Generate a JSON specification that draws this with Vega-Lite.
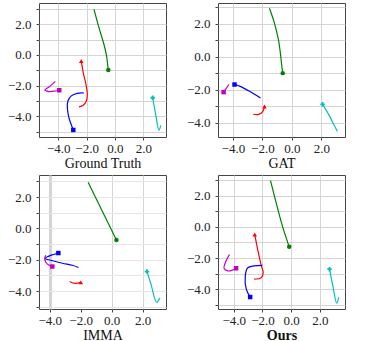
{
  "$schema": "https://vega.github.io/schema/vega-lite/v6.json",
  "padding": {"left": 6, "top": 0, "right": 0, "bottom": 0},
  "background": "white",
  "datasets": {
    "traj": [
      {"p": "GT", "a": "green", "i": 0, "m": 1, "x": -0.47, "y": -0.98},
      {"p": "GT", "a": "green", "i": 1, "m": 0, "x": -0.52, "y": -0.61},
      {"p": "GT", "a": "green", "i": 2, "m": 0, "x": -0.59, "y": -0.07},
      {"p": "GT", "a": "green", "i": 3, "m": 0, "x": -0.78, "y": 0.70},
      {"p": "GT", "a": "green", "i": 4, "m": 0, "x": -1.13, "y": 1.78},
      {"p": "GT", "a": "green", "i": 5, "m": 0, "x": -1.48, "y": 2.98},
      {"p": "GT", "a": "red", "i": 0, "m": 1, "x": -2.38, "y": -0.39},
      {"p": "GT", "a": "red", "i": 1, "m": 0, "x": -2.24, "y": -1.15},
      {"p": "GT", "a": "red", "i": 2, "m": 0, "x": -2.05, "y": -1.91},
      {"p": "GT", "a": "red", "i": 3, "m": 0, "x": -1.95, "y": -2.57},
      {"p": "GT", "a": "red", "i": 4, "m": 0, "x": -2.02, "y": -3.0},
      {"p": "GT", "a": "red", "i": 5, "m": 0, "x": -2.24, "y": -3.28},
      {"p": "GT", "a": "red", "i": 6, "m": 0, "x": -2.54, "y": -3.39},
      {"p": "GT", "a": "blue", "i": 0, "m": 1, "x": -2.94, "y": -4.89},
      {"p": "GT", "a": "blue", "i": 1, "m": 0, "x": -3.25, "y": -4.09},
      {"p": "GT", "a": "blue", "i": 2, "m": 0, "x": -3.36, "y": -3.43},
      {"p": "GT", "a": "blue", "i": 3, "m": 0, "x": -3.32, "y": -3.0},
      {"p": "GT", "a": "blue", "i": 4, "m": 0, "x": -3.08, "y": -2.67},
      {"p": "GT", "a": "blue", "i": 5, "m": 0, "x": -2.66, "y": -2.5},
      {"p": "GT", "a": "blue", "i": 6, "m": 0, "x": -2.19, "y": -2.48},
      {"p": "GT", "a": "magenta", "i": 0, "m": 1, "x": -3.93, "y": -2.3},
      {"p": "GT", "a": "magenta", "i": 1, "m": 0, "x": -4.19, "y": -2.35},
      {"p": "GT", "a": "magenta", "i": 2, "m": 0, "x": -4.66, "y": -2.39},
      {"p": "GT", "a": "magenta", "i": 3, "m": 0, "x": -4.94, "y": -2.28},
      {"p": "GT", "a": "magenta", "i": 4, "m": 0, "x": -4.66, "y": -2.09},
      {"p": "GT", "a": "magenta", "i": 5, "m": 0, "x": -4.21, "y": -1.72},
      {"p": "GT", "a": "cyan", "i": 0, "m": 1, "x": 2.66, "y": -2.79},
      {"p": "GT", "a": "cyan", "i": 1, "m": 0, "x": 2.87, "y": -3.87},
      {"p": "GT", "a": "cyan", "i": 2, "m": 0, "x": 3.1, "y": -4.9},
      {"p": "GT", "a": "cyan", "i": 3, "m": 0, "x": 3.23, "y": -4.59},

      {"p": "GAT", "a": "green", "i": 0, "m": 1, "x": -0.62, "y": -0.98},
      {"p": "GAT", "a": "green", "i": 1, "m": 0, "x": -0.69, "y": -0.5},
      {"p": "GAT", "a": "green", "i": 2, "m": 0, "x": -0.78, "y": 0.22},
      {"p": "GAT", "a": "green", "i": 3, "m": 0, "x": -0.91, "y": 1.03},
      {"p": "GAT", "a": "green", "i": 4, "m": 0, "x": -1.18, "y": 2.04},
      {"p": "GAT", "a": "green", "i": 5, "m": 0, "x": -1.52, "y": 2.95},
      {"p": "GAT", "a": "blue", "i": 0, "m": 1, "x": -3.89, "y": -1.67},
      {"p": "GAT", "a": "blue", "i": 1, "m": 0, "x": -3.55, "y": -1.77},
      {"p": "GAT", "a": "blue", "i": 2, "m": 0, "x": -2.87, "y": -2.08},
      {"p": "GAT", "a": "blue", "i": 3, "m": 0, "x": -2.13, "y": -2.48},
      {"p": "GAT", "a": "magenta", "i": 0, "m": 1, "x": -4.63, "y": -2.13},
      {"p": "GAT", "a": "magenta", "i": 1, "m": 0, "x": -4.45, "y": -1.9},
      {"p": "GAT", "a": "magenta", "i": 2, "m": 0, "x": -4.27, "y": -1.67},
      {"p": "GAT", "a": "red", "i": 0, "m": 1, "x": -1.86, "y": -3.0},
      {"p": "GAT", "a": "red", "i": 1, "m": 0, "x": -1.97, "y": -3.3},
      {"p": "GAT", "a": "red", "i": 2, "m": 0, "x": -2.24, "y": -3.48},
      {"p": "GAT", "a": "red", "i": 3, "m": 0, "x": -2.62, "y": -3.47},
      {"p": "GAT", "a": "cyan", "i": 0, "m": 1, "x": 2.08, "y": -2.87},
      {"p": "GAT", "a": "cyan", "i": 1, "m": 0, "x": 2.53, "y": -3.54},
      {"p": "GAT", "a": "cyan", "i": 2, "m": 0, "x": 2.87, "y": -4.15},
      {"p": "GAT", "a": "cyan", "i": 3, "m": 0, "x": 3.09, "y": -4.51},

      {"p": "IMMA", "a": "green", "i": 0, "m": 1, "x": 0.31, "y": -0.74},
      {"p": "IMMA", "a": "green", "i": 1, "m": 0, "x": -1.52, "y": 2.95},
      {"p": "IMMA", "a": "blue", "i": 0, "m": 1, "x": -3.44, "y": -1.57},
      {"p": "IMMA", "a": "blue", "i": 1, "m": 0, "x": -4.15, "y": -1.8},
      {"p": "IMMA", "a": "blue", "i": 2, "m": 0, "x": -4.3, "y": -1.92},
      {"p": "IMMA", "a": "blue", "i": 3, "m": 0, "x": -3.94, "y": -2.03},
      {"p": "IMMA", "a": "blue", "i": 4, "m": 0, "x": -3.18, "y": -2.22},
      {"p": "IMMA", "a": "blue", "i": 5, "m": 0, "x": -2.53, "y": -2.35},
      {"p": "IMMA", "a": "blue", "i": 6, "m": 0, "x": -2.14, "y": -2.49},
      {"p": "IMMA", "a": "magenta", "i": 0, "m": 1, "x": -3.83, "y": -2.43},
      {"p": "IMMA", "a": "magenta", "i": 1, "m": 0, "x": -4.15, "y": -2.28},
      {"p": "IMMA", "a": "magenta", "i": 2, "m": 0, "x": -4.32, "y": -1.97},
      {"p": "IMMA", "a": "magenta", "i": 3, "m": 0, "x": -4.26, "y": -1.71},
      {"p": "IMMA", "a": "red", "i": 0, "m": 1, "x": -1.99, "y": -3.44},
      {"p": "IMMA", "a": "red", "i": 1, "m": 0, "x": -2.36, "y": -3.51},
      {"p": "IMMA", "a": "red", "i": 2, "m": 0, "x": -2.71, "y": -3.38},
      {"p": "IMMA", "a": "cyan", "i": 0, "m": 1, "x": 2.28, "y": -2.75},
      {"p": "IMMA", "a": "cyan", "i": 1, "m": 0, "x": 2.54, "y": -3.55},
      {"p": "IMMA", "a": "cyan", "i": 2, "m": 0, "x": 2.9, "y": -4.71},
      {"p": "IMMA", "a": "cyan", "i": 3, "m": 0, "x": 3.12, "y": -4.43},

      {"p": "Ours", "a": "green", "i": 0, "m": 1, "x": -0.14, "y": -1.28},
      {"p": "Ours", "a": "green", "i": 1, "m": 0, "x": -0.64, "y": 0.15},
      {"p": "Ours", "a": "green", "i": 2, "m": 0, "x": -1.1, "y": 1.74},
      {"p": "Ours", "a": "green", "i": 3, "m": 0, "x": -1.44, "y": 2.98},
      {"p": "Ours", "a": "red", "i": 0, "m": 1, "x": -2.54, "y": -0.49},
      {"p": "Ours", "a": "red", "i": 1, "m": 0, "x": -2.24, "y": -1.87},
      {"p": "Ours", "a": "red", "i": 2, "m": 0, "x": -2.08, "y": -2.51},
      {"p": "Ours", "a": "red", "i": 3, "m": 0, "x": -1.95, "y": -2.94},
      {"p": "Ours", "a": "red", "i": 4, "m": 0, "x": -2.08, "y": -3.26},
      {"p": "Ours", "a": "red", "i": 5, "m": 0, "x": -2.58, "y": -3.36},
      {"p": "Ours", "a": "blue", "i": 0, "m": 1, "x": -2.86, "y": -4.51},
      {"p": "Ours", "a": "blue", "i": 1, "m": 0, "x": -3.13, "y": -4.0},
      {"p": "Ours", "a": "blue", "i": 2, "m": 0, "x": -3.2, "y": -3.15},
      {"p": "Ours", "a": "blue", "i": 3, "m": 0, "x": -3.04, "y": -2.64},
      {"p": "Ours", "a": "blue", "i": 4, "m": 0, "x": -2.58, "y": -2.51},
      {"p": "Ours", "a": "blue", "i": 5, "m": 0, "x": -2.01, "y": -2.47},
      {"p": "Ours", "a": "magenta", "i": 0, "m": 1, "x": -3.84, "y": -2.66},
      {"p": "Ours", "a": "magenta", "i": 1, "m": 0, "x": -4.07, "y": -2.77},
      {"p": "Ours", "a": "magenta", "i": 2, "m": 0, "x": -4.41, "y": -2.83},
      {"p": "Ours", "a": "magenta", "i": 3, "m": 0, "x": -4.68, "y": -2.66},
      {"p": "Ours", "a": "magenta", "i": 4, "m": 0, "x": -4.59, "y": -2.3},
      {"p": "Ours", "a": "magenta", "i": 5, "m": 0, "x": -4.3, "y": -1.77},
      {"p": "Ours", "a": "cyan", "i": 0, "m": 1, "x": 2.67, "y": -2.72},
      {"p": "Ours", "a": "cyan", "i": 1, "m": 0, "x": 2.9, "y": -3.79},
      {"p": "Ours", "a": "cyan", "i": 2, "m": 0, "x": 3.17, "y": -4.91},
      {"p": "Ours", "a": "cyan", "i": 3, "m": 0, "x": 3.31, "y": -4.53}
    ]
  },
  "data": {"name": "traj"},
  "columns": 2,
  "spacing": {"row": 2, "column": 18},
  "resolve": {"scale": {"x": "independent", "y": "independent"}},
  "concat": [
    {
      "width": 127, "height": 134,
      "transform": [{"filter": "datum.p == 'GT'"}],
      "layer": [
        {"mark": {"type": "line", "interpolate": "catmull-rom", "strokeWidth": 1.2},
         "encoding": {
           "x": {"field": "x", "type": "quantitative", "scale": {"domain": [-5.36, 3.6], "nice": false, "zero": false},
                 "axis": {"title": "Ground Truth", "values": [-4, -2, 0, 2], "format": ".1f"}},
           "y": {"field": "y", "type": "quantitative", "scale": {"domain": [-5.35, 3.39], "nice": false, "zero": false},
                 "axis": {"title": null, "tickCount": 9, "format": ".1f", "labelPadding": 5, "labelExpr": "abs(round(datum.value)) % 2 == 0 ? datum.label : ''"}},
           "order": {"field": "i"},
           "color": {"field": "a", "type": "nominal", "scale": {"domain": ["green", "red", "blue", "magenta", "cyan"], "range": ["#008000", "#ff0000", "#0000ff", "#bf00bf", "#00bfbf"]}, "legend": null}
         }},
        {"mark": {"type": "point", "filled": true, "size": 20, "opacity": 1},
         "transform": [{"filter": "datum.m == 1"}],
         "encoding": {
           "x": {"field": "x", "type": "quantitative"},
           "y": {"field": "y", "type": "quantitative"},
           "color": {"field": "a", "type": "nominal", "legend": null},
           "shape": {"field": "a", "type": "nominal", "scale": {"domain": ["green", "red", "blue", "magenta", "cyan"], "range": ["circle", "triangle-up", "square", "square", "cross"]}, "legend": null}
         }}
      ]
    },
    {
      "width": 127, "height": 134,
      "transform": [{"filter": "datum.p == 'GAT'"}],
      "layer": [
        {"mark": {"type": "line", "interpolate": "catmull-rom", "strokeWidth": 1.2},
         "encoding": {
           "x": {"field": "x", "type": "quantitative", "scale": {"domain": [-5.01, 3.6], "nice": false, "zero": false},
                 "axis": {"title": "GAT", "values": [-4, -2, 0, 2], "format": ".1f"}},
           "y": {"field": "y", "type": "quantitative", "scale": {"domain": [-4.85, 3.27], "nice": false, "zero": false},
                 "axis": {"title": null, "tickCount": 9, "format": ".1f", "labelPadding": 5, "labelExpr": "abs(round(datum.value)) % 2 == 0 ? datum.label : ''"}},
           "order": {"field": "i"},
           "color": {"field": "a", "type": "nominal", "scale": {"domain": ["green", "red", "blue", "magenta", "cyan"], "range": ["#008000", "#ff0000", "#0000ff", "#bf00bf", "#00bfbf"]}, "legend": null}
         }},
        {"mark": {"type": "point", "filled": true, "size": 20, "opacity": 1},
         "transform": [{"filter": "datum.m == 1"}],
         "encoding": {
           "x": {"field": "x", "type": "quantitative"},
           "y": {"field": "y", "type": "quantitative"},
           "color": {"field": "a", "type": "nominal", "legend": null},
           "shape": {"field": "a", "type": "nominal", "scale": {"domain": ["green", "red", "blue", "magenta", "cyan"], "range": ["circle", "triangle-up", "square", "square", "cross"]}, "legend": null}
         }}
      ]
    },
    {
      "width": 127, "height": 134,
      "transform": [{"filter": "datum.p == 'IMMA'"}],
      "layer": [
        {"mark": {"type": "line", "interpolate": "catmull-rom", "strokeWidth": 1.2},
         "encoding": {
           "x": {"field": "x", "type": "quantitative", "scale": {"domain": [-4.69, 3.51], "nice": false, "zero": false},
                 "axis": {"title": "IMMA", "values": [-4, -2, 0, 2], "format": ".1f",
                          "gridWidth": {"expr": "datum.value == -4 ? 3 : 1"},
                          "gridOpacity": {"expr": "datum.value == -2 ? 0 : 1"}}},
           "y": {"field": "y", "type": "quantitative", "scale": {"domain": [-5.14, 3.41], "nice": false, "zero": false},
                 "axis": {"title": null, "tickCount": 9, "format": ".1f", "labelPadding": 5, "labelExpr": "abs(round(datum.value)) % 2 == 0 ? datum.label : ''", "gridColor": "#e6e6e6"}},
           "order": {"field": "i"},
           "color": {"field": "a", "type": "nominal", "scale": {"domain": ["green", "red", "blue", "magenta", "cyan"], "range": ["#008000", "#ff0000", "#0000ff", "#bf00bf", "#00bfbf"]}, "legend": null}
         }},
        {"mark": {"type": "point", "filled": true, "size": 20, "opacity": 1},
         "transform": [{"filter": "datum.m == 1"}],
         "encoding": {
           "x": {"field": "x", "type": "quantitative"},
           "y": {"field": "y", "type": "quantitative"},
           "color": {"field": "a", "type": "nominal", "legend": null},
           "shape": {"field": "a", "type": "nominal", "scale": {"domain": ["green", "red", "blue", "magenta", "cyan"], "range": ["circle", "triangle-up", "square", "square", "cross"]}, "legend": null}
         }}
      ]
    },
    {
      "width": 127, "height": 134,
      "transform": [{"filter": "datum.p == 'Ours'"}],
      "layer": [
        {"mark": {"type": "line", "interpolate": "catmull-rom", "strokeWidth": 1.2},
         "encoding": {
           "x": {"field": "x", "type": "quantitative", "scale": {"domain": [-5.1, 3.75], "nice": false, "zero": false},
                 "axis": {"title": "Ours", "titleFontWeight": "bold", "values": [-4, -2, 0, 2], "format": ".1f"}},
           "y": {"field": "y", "type": "quantitative", "scale": {"domain": [-5.28, 3.34], "nice": false, "zero": false},
                 "axis": {"title": null, "tickCount": 9, "format": ".1f", "labelPadding": 5, "labelExpr": "abs(round(datum.value)) % 2 == 0 ? datum.label : ''"}},
           "order": {"field": "i"},
           "color": {"field": "a", "type": "nominal", "scale": {"domain": ["green", "red", "blue", "magenta", "cyan"], "range": ["#008000", "#ff0000", "#0000ff", "#bf00bf", "#00bfbf"]}, "legend": null}
         }},
        {"mark": {"type": "point", "filled": true, "size": 20, "opacity": 1},
         "transform": [{"filter": "datum.m == 1"}],
         "encoding": {
           "x": {"field": "x", "type": "quantitative"},
           "y": {"field": "y", "type": "quantitative"},
           "color": {"field": "a", "type": "nominal", "legend": null},
           "shape": {"field": "a", "type": "nominal", "scale": {"domain": ["green", "red", "blue", "magenta", "cyan"], "range": ["circle", "triangle-up", "square", "square", "cross"]}, "legend": null}
         }}
      ]
    }
  ],
  "config": {
    "view": {"stroke": "#444", "strokeWidth": 1},
    "axis": {
      "domain": false,
      "labelFont": "Liberation Serif", "labelFontSize": 13, "labelColor": "#222",
      "titleFont": "Liberation Serif", "titleFontSize": 14, "titleColor": "#111", "titleFontWeight": "normal",
      "tickColor": "#444", "tickSize": 3, "labelPadding": 2, "titlePadding": 1,
      "gridColor": "#d4d4d4", "gridWidth": 1, "labelOverlap": false, "labelBound": false, "labelFlush": false
    }
  }
}
